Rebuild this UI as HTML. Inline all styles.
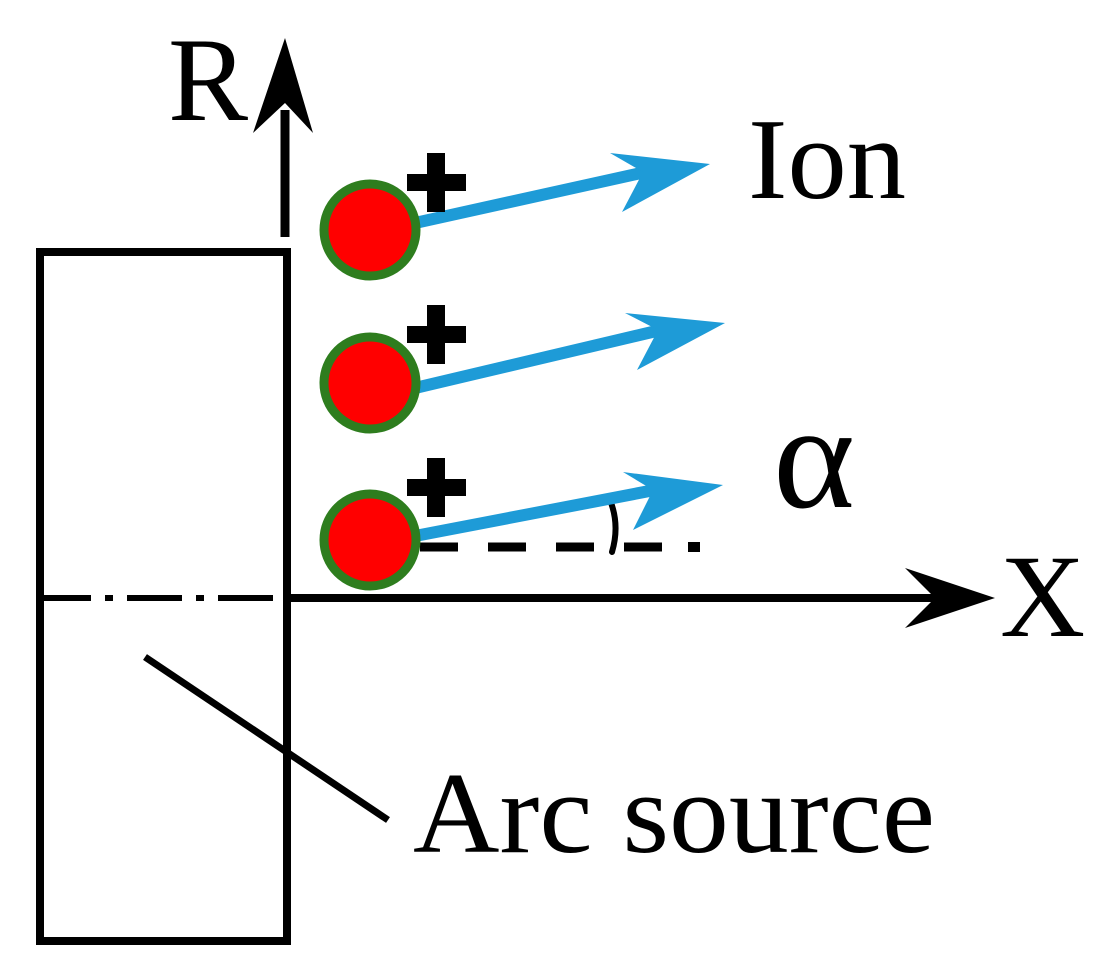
<!DOCTYPE html>
<html><head><meta charset="utf-8"><style>
html,body{margin:0;padding:0;background:#fff;}
svg{display:block;}
text{font-family:"Liberation Serif",serif;fill:#000;}
</style></head><body>
<svg width="1104" height="972" viewBox="0 0 1104 972" xmlns="http://www.w3.org/2000/svg">
<rect x="40" y="252" width="247" height="689" fill="none" stroke="#000" stroke-width="8"/>
<line x1="36" y1="598" x2="287" y2="598" stroke="#000" stroke-width="6" stroke-dasharray="55,14,8,14"/>
<line x1="287" y1="598" x2="950" y2="598" stroke="#000" stroke-width="8"/>
<polygon points="995,598 905,568 935,598 905,628" fill="#000"/>
<line x1="285" y1="237" x2="285" y2="110" stroke="#000" stroke-width="9"/>
<polygon points="285,38 253,133 285,103 313,133" fill="#000"/>
<line x1="145" y1="657" x2="388" y2="820" stroke="#000" stroke-width="7"/>
<line x1="420" y1="547" x2="700" y2="547" stroke="#000" stroke-width="9" stroke-dasharray="38,30"/>
<rect x="688" y="542" width="12" height="10" fill="#000"/>
<path d="M610,500 Q620,525 612,552" fill="none" stroke="#000" stroke-width="6" stroke-linecap="round"/>
<g stroke="#1e9bd7" stroke-width="12" fill="none">
<line x1="415" y1="223" x2="650" y2="171"/>
<line x1="415" y1="388" x2="665" y2="329"/>
<line x1="415" y1="536" x2="660" y2="489"/>
</g>
<g fill="#1e9bd7">
<polygon points="710,164 610,153 643,172 622,212"/>
<polygon points="725,323 625,313 658,330 637,370"/>
<polygon points="723,485 623,472 653,490 633,530"/>
</g>
<g fill="#ff0000" stroke="#2e7d1e" stroke-width="9">
<circle cx="370" cy="230" r="46"/>
<circle cx="370" cy="383" r="46"/>
<circle cx="370" cy="540" r="46"/>
</g>
<g fill="#000">
<rect x="427" y="153" width="18" height="59"/><rect x="407" y="174" width="59" height="17"/>
<rect x="427" y="305" width="18" height="59"/><rect x="407" y="326" width="59" height="17"/>
<rect x="427" y="458" width="18" height="59"/><rect x="407" y="479" width="59" height="17"/>
</g>
<text x="168" y="120" font-size="120">R</text>
<text x="748" y="198" font-size="115" textLength="158" lengthAdjust="spacingAndGlyphs">Ion</text>
<text x="773" y="507" font-size="150" textLength="82" lengthAdjust="spacingAndGlyphs">α</text>
<text x="1000" y="636" font-size="118">X</text>
<text x="413" y="852" font-size="116" textLength="522" lengthAdjust="spacingAndGlyphs">Arc source</text>
</svg>
</body></html>
